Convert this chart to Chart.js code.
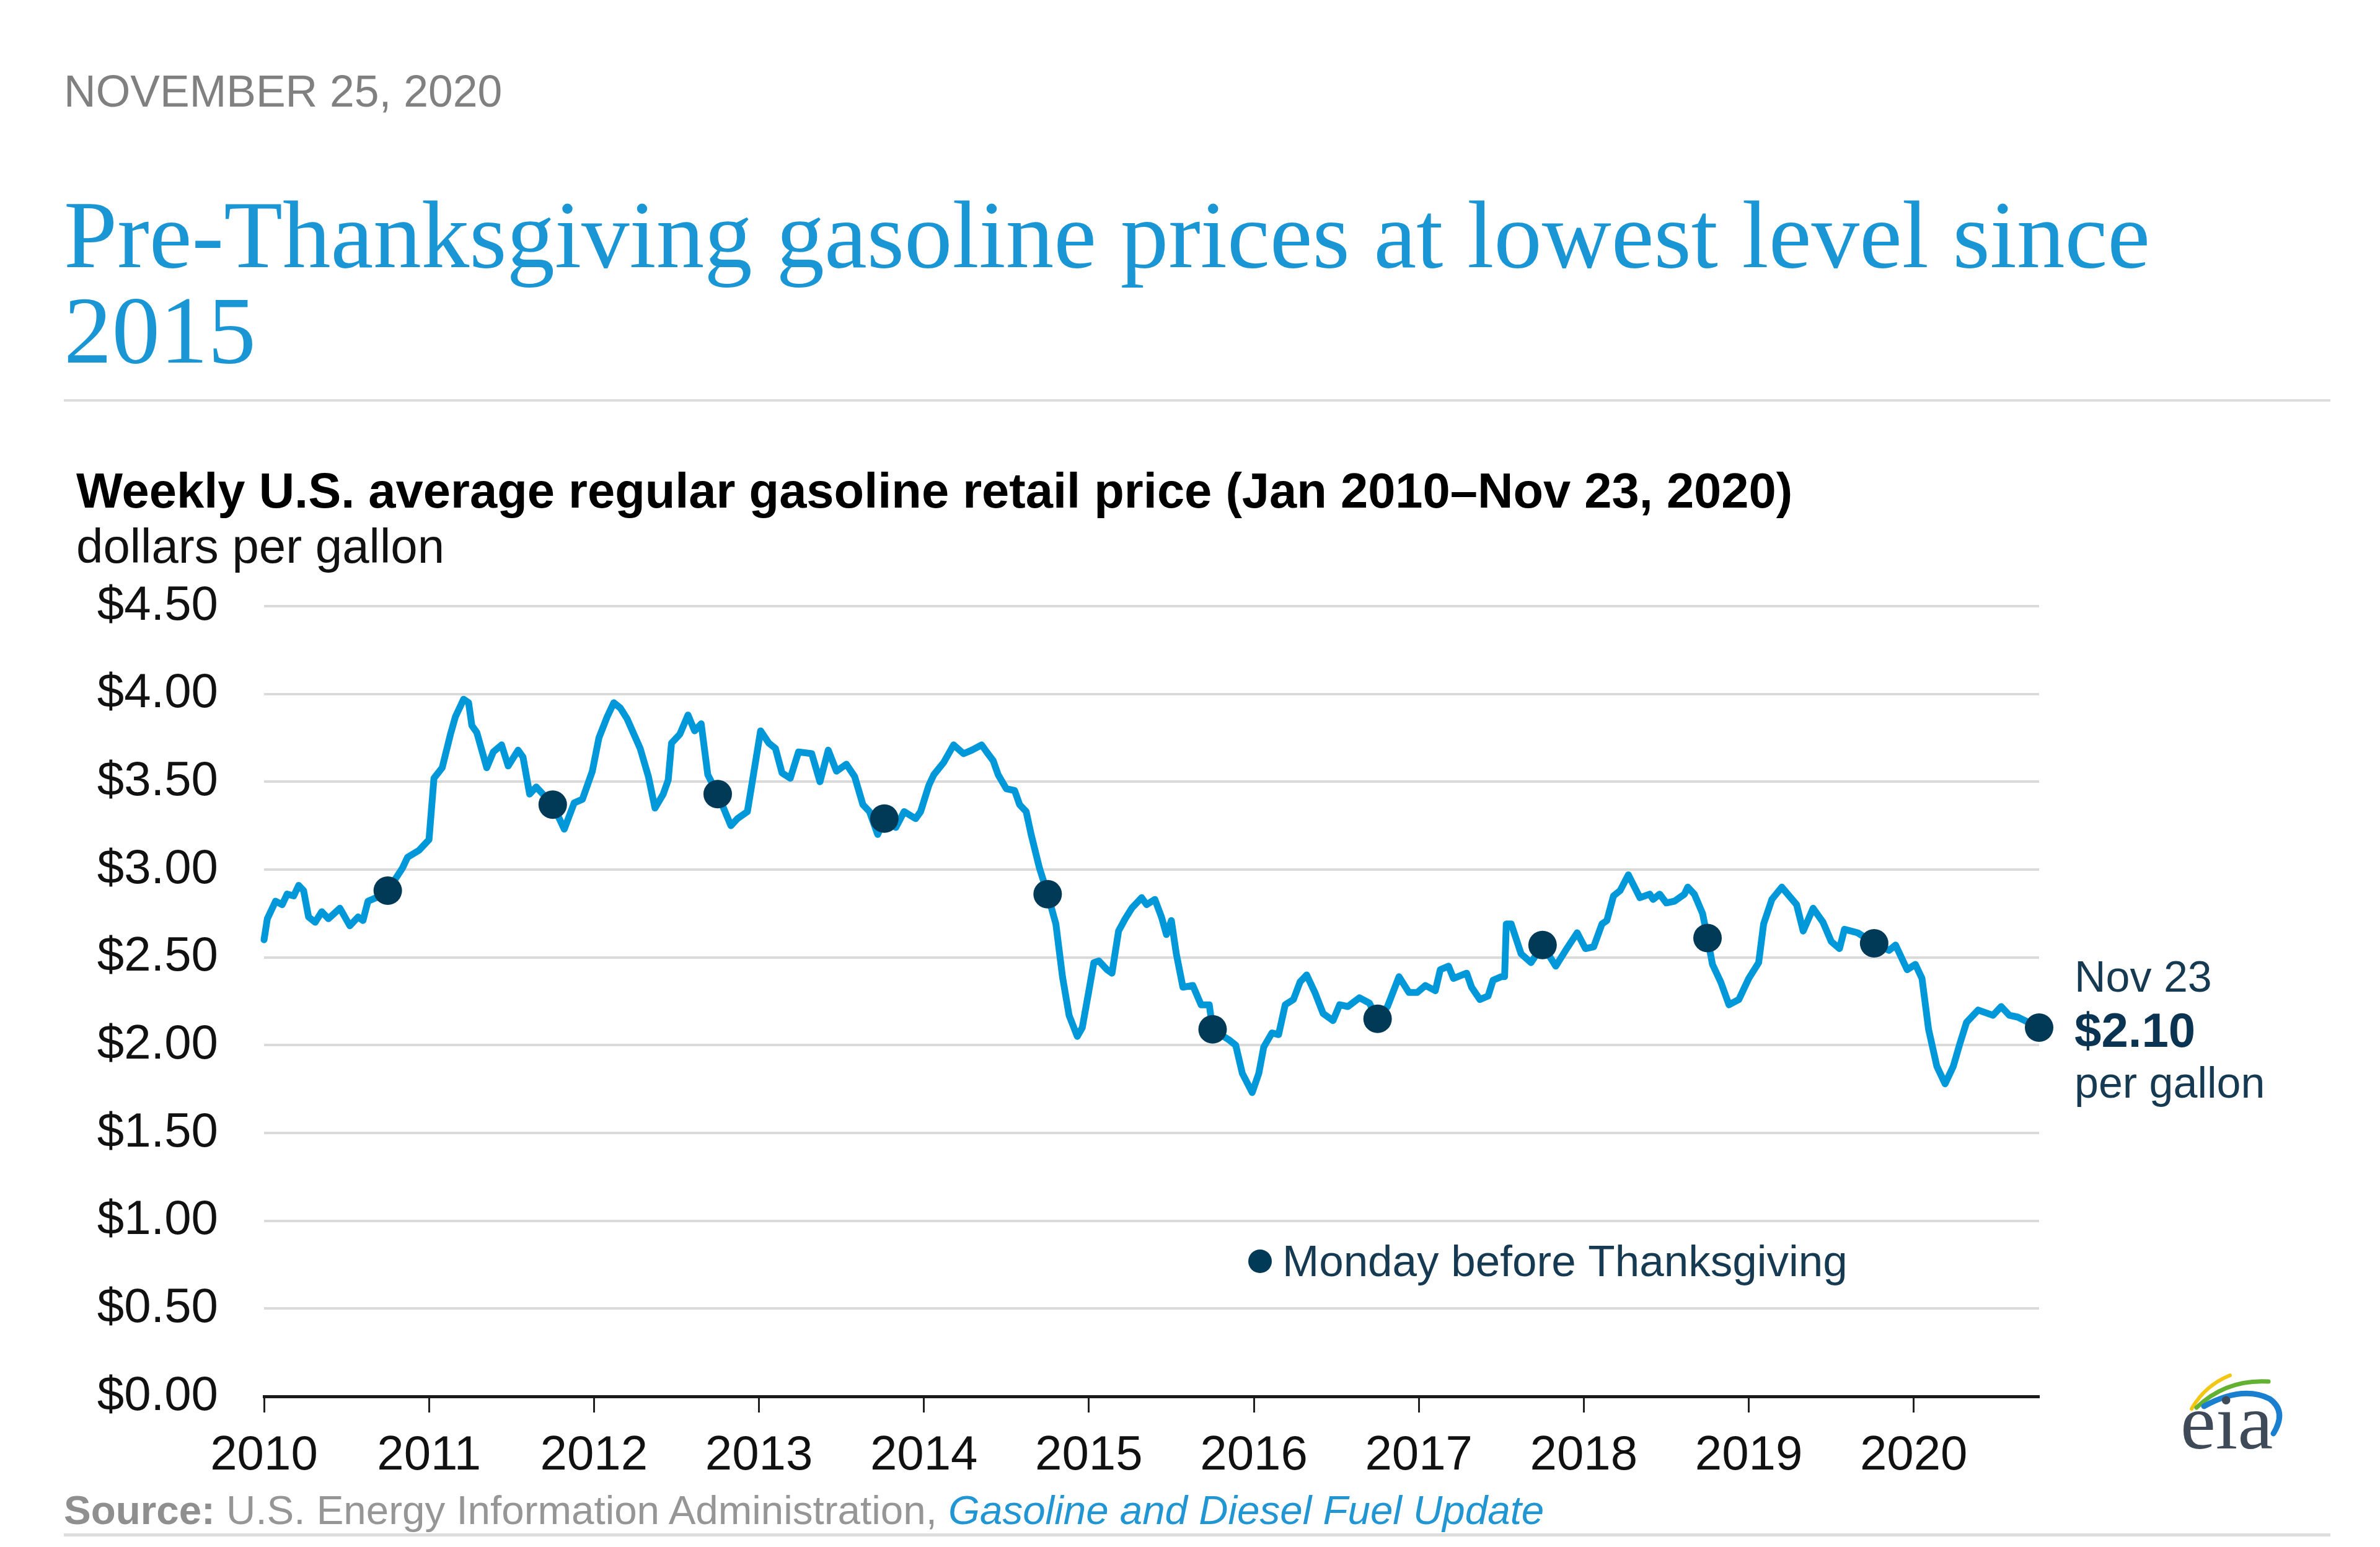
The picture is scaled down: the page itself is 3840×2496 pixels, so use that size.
<!DOCTYPE html>
<html>
<head>
<meta charset="utf-8">
<script src="https://cdn.jsdelivr.net/npm/chart.js@4.4.1/dist/chart.umd.min.js"></script>
<style>
  html, body { margin: 0; padding: 0; background: #ffffff; }
  #page { position: relative; width: 3840px; height: 2496px; overflow: hidden; background: #fff; }
  #c { position: absolute; left: 0; top: 0; }
  .abs { position: absolute; white-space: nowrap; margin: 0; }
  .sans { font-family: "Liberation Sans", Arial, sans-serif; }
  #date { left: 103px; top: 111px; font-size: 71.5px; line-height: 72px; color: #808080; }
  #title { left: 103px; top: 302px; font-family: "Liberation Serif", "Times New Roman", serif; font-size: 155px; line-height: 154px; color: #1a96d5; }
  .rule { position: absolute; left: 103px; width: 3657px; background: #dddddd; }
  #ctitle { left: 123px; top: 752px; font-size: 79.5px; line-height: 79.5px; font-weight: bold; color: #000; }
  #cunit { left: 123px; top: 842px; font-size: 78px; line-height: 78px; color: #111; }
  #source { left: 103px; top: 2404px; font-size: 65.5px; line-height: 65.5px; color: #969696; }
  #source b { color: #8f8f8f; }
  #source i { color: #2196d3; }
  #logo { position: absolute; left: 3500px; top: 2195px; }
</style>
</head>
<body>
<div id="page">
  <canvas id="c" width="3840" height="2496"></canvas>
  <div class="abs sans" id="date">NOVEMBER 25, 2020</div>
  <div class="abs" id="title">Pre-Thanksgiving gasoline prices at lowest level since<br>2015</div>
  <div class="rule" style="top:644px;height:4px;"></div>
  <div class="abs sans" id="ctitle">Weekly U.S. average regular gasoline retail price (Jan 2010–Nov 23, 2020)</div>
  <div class="abs sans" id="cunit">dollars per gallon</div>
  <div class="abs sans" id="source"><b>Source:</b> U.S. Energy Information Administration, <i>Gasoline and Diesel Fuel Update</i></div>
  <div class="rule" style="top:2474px;height:5px;"></div>
  <svg id="logo" width="210" height="170" viewBox="0 0 210 170">
    <path d="M36,78 Q58,40 98,24" fill="none" stroke="#f3c614" stroke-width="6" stroke-linecap="round"/>
    <path d="M44,76 Q92,30 160,34" fill="none" stroke="#62b133" stroke-width="7" stroke-linecap="round"/>
    <path d="M56,74 Q118,40 162,62 Q190,82 168,118" fill="none" stroke="#1a7fcf" stroke-width="9" stroke-linecap="round"/>
    <text x="18" y="142" font-family="Liberation Serif, Times New Roman, serif" font-size="128" fill="#3e4a57">eia</text>
  </svg>
</div>
<script>
// ---- data (x = years elapsed since Jan 2010 as drawn on the chart's axis) ----
const yearLabels = ['2010','2011','2012','2013','2014','2015','2016','2017','2018','2019','2020'];
const yTickValues = [0, 0.5, 1, 1.5, 2, 2.5, 3, 3.5, 4, 4.5];

const priceX = [
  0.00, 0.02, 0.07, 0.11, 0.14, 0.18, 0.21, 0.24, 0.27, 0.31,
  0.35, 0.39, 0.46, 0.52, 0.57, 0.60, 0.63, 0.68, 0.75, 0.84,
  0.87, 0.94, 1.00, 1.03, 1.08, 1.13, 1.16, 1.21, 1.24, 1.26,
  1.29, 1.35, 1.39, 1.44, 1.48, 1.54, 1.57, 1.61, 1.65, 1.75,
  1.82, 1.88, 1.93, 1.99, 2.03, 2.08, 2.12, 2.16, 2.20, 2.28,
  2.33, 2.37, 2.42, 2.45, 2.47, 2.52, 2.57, 2.61, 2.65, 2.69,
  2.75, 2.83, 2.87, 2.93, 2.97, 3.01, 3.06, 3.10, 3.14, 3.19,
  3.24, 3.32, 3.37, 3.42, 3.47, 3.53, 3.58, 3.63, 3.67, 3.72,
  3.76, 3.83, 3.88, 3.95, 3.98, 4.03, 4.06, 4.12, 4.18, 4.24,
  4.29, 4.35, 4.38, 4.42, 4.45, 4.50, 4.55, 4.58, 4.62, 4.65,
  4.70, 4.75, 4.80, 4.84, 4.88, 4.93, 4.96, 5.00, 5.03, 5.06,
  5.11, 5.14, 5.18, 5.22, 5.26, 5.32, 5.35, 5.40, 5.44, 5.47,
  5.50, 5.53, 5.57, 5.63, 5.68, 5.73, 5.75, 5.85, 5.89, 5.93,
  5.99, 6.03, 6.06, 6.11, 6.15, 6.19, 6.24, 6.28, 6.32, 6.37,
  6.42, 6.48, 6.52, 6.57, 6.64, 6.70, 6.75, 6.81, 6.88, 6.94,
  6.99, 7.04, 7.10, 7.13, 7.18, 7.21, 7.29, 7.32, 7.37, 7.42,
  7.45, 7.50, 7.52, 7.53, 7.56, 7.62, 7.68, 7.75, 7.83, 7.89,
  7.96, 8.01, 8.06, 8.11, 8.14, 8.18, 8.22, 8.27, 8.34, 8.40,
  8.42, 8.46, 8.50, 8.55, 8.61, 8.63, 8.67, 8.72, 8.75, 8.78,
  8.83, 8.88, 8.94, 9.00, 9.06, 9.09, 9.14, 9.20, 9.29, 9.33,
  9.39, 9.45, 9.50, 9.55, 9.58, 9.66, 9.76, 9.85, 9.89, 9.96,
  10.01, 10.05, 10.09, 10.14, 10.19, 10.24, 10.28, 10.32, 10.39, 10.48,
  10.53, 10.58, 10.63, 10.76
];
const priceY = [
  2.60, 2.72, 2.82, 2.80, 2.86, 2.85, 2.91, 2.88, 2.73, 2.70,
  2.76, 2.72, 2.78, 2.68, 2.73, 2.71, 2.82, 2.84, 2.88, 3.01,
  3.07, 3.11, 3.17, 3.52, 3.58, 3.77, 3.87, 3.97, 3.95, 3.82,
  3.78, 3.58, 3.67, 3.71, 3.59, 3.68, 3.64, 3.43, 3.47, 3.37,
  3.23, 3.38, 3.40, 3.56, 3.75, 3.87, 3.95, 3.92, 3.86, 3.69,
  3.53, 3.35, 3.43, 3.51, 3.72, 3.77, 3.88, 3.79, 3.83, 3.54,
  3.43, 3.25, 3.29, 3.33, 3.56, 3.79, 3.72, 3.69, 3.55, 3.52,
  3.67, 3.66, 3.50, 3.68, 3.56, 3.60, 3.53, 3.37, 3.33, 3.20,
  3.29, 3.24, 3.33, 3.29, 3.33, 3.48, 3.54, 3.61, 3.71, 3.66,
  3.68, 3.71, 3.67, 3.62, 3.54, 3.46, 3.45, 3.37, 3.33, 3.20,
  3.01, 2.86, 2.69, 2.39, 2.17, 2.05, 2.10, 2.31, 2.47, 2.48,
  2.43, 2.41, 2.65, 2.72, 2.78, 2.84, 2.80, 2.83, 2.73, 2.63,
  2.71, 2.52, 2.33, 2.34, 2.23, 2.23, 2.09, 2.03, 2.00, 1.84,
  1.73, 1.84, 1.99, 2.07, 2.06, 2.23, 2.26, 2.36, 2.40, 2.30,
  2.18, 2.14, 2.23, 2.22, 2.27, 2.24, 2.15, 2.22, 2.39, 2.30,
  2.30, 2.34, 2.31, 2.43, 2.45, 2.38, 2.41, 2.33, 2.26, 2.28,
  2.37, 2.39, 2.39, 2.69, 2.69, 2.52, 2.47, 2.57, 2.45, 2.54,
  2.64, 2.55, 2.56, 2.69, 2.71, 2.85, 2.88, 2.97, 2.84, 2.86,
  2.83, 2.86, 2.81, 2.82, 2.86, 2.90, 2.86, 2.75, 2.61, 2.46,
  2.36, 2.23, 2.26, 2.38, 2.47, 2.69, 2.83, 2.90, 2.80, 2.65,
  2.78, 2.70, 2.59, 2.55, 2.66, 2.64, 2.58, 2.54, 2.57, 2.43,
  2.46, 2.38, 2.09, 1.88, 1.78, 1.88, 2.01, 2.13, 2.20, 2.17,
  2.22, 2.17, 2.16, 2.10
];

const thanksgivingX = [0.75, 1.75, 2.75, 3.76, 4.75, 5.75, 6.75, 7.75, 8.75, 9.76, 10.76];
const thanksgivingY = [2.88, 3.37, 3.43, 3.29, 2.86, 2.09, 2.15, 2.57, 2.61, 2.58, 2.10];

const legendLabel = 'Monday before Thanksgiving';
const lastDateLabel = 'Nov 23';
const lastUnitLabel = 'per gallon';

// ---- build datasets ----
const pricePoints = priceX.map((x, i) => ({ x: x, y: priceY[i] }));
const thanksPoints = thanksgivingX.map((x, i) => ({ x: x, y: thanksgivingY[i] }));

const FONT = '"Liberation Sans", Arial, sans-serif';
const NAVY = '#003a57';
const TEXT_NAVY = '#163a52';

const notes = {
  id: 'notes',
  afterDatasetsDraw(chart) {
    const { ctx, chartArea, scales } = chart;
    const xs = scales.x, ys = scales.y;
    const lastX = thanksgivingX[thanksgivingX.length - 1];
    const lastY = thanksgivingY[thanksgivingY.length - 1];
    const px = xs.getPixelForValue(lastX);
    const py = ys.getPixelForValue(lastY);
    ctx.save();
    ctx.textAlign = 'left';
    ctx.textBaseline = 'alphabetic';
    ctx.fillStyle = TEXT_NAVY;
    ctx.font = '70px ' + FONT;
    ctx.fillText(lastDateLabel, px + 57, py - 58);
    ctx.fillStyle = '#0b3452';
    ctx.font = 'bold 78px ' + FONT;
    ctx.fillText('$' + lastY.toFixed(2), px + 57, py + 31);
    ctx.fillStyle = TEXT_NAVY;
    ctx.font = '70px ' + FONT;
    ctx.fillText(lastUnitLabel, px + 57, py + 113);

    // legend (inside plot area)
    const lx = chartArea.left + 1607;
    const ly = chartArea.bottom - 218;
    ctx.fillStyle = NAVY;
    ctx.beginPath();
    ctx.arc(lx, ly, 19, 0, Math.PI * 2);
    ctx.fill();
    ctx.fillStyle = TEXT_NAVY;
    ctx.font = '71px ' + FONT;
    ctx.fillText(legendLabel, lx + 36, ly + 24);
    ctx.restore();
  }
};

new Chart(document.getElementById('c'), {
  type: 'line',
  data: {
    datasets: [
      {
        label: legendLabel,
        data: thanksPoints,
        showLine: false,
        pointRadius: 23,
        pointHoverRadius: 23,
        pointBackgroundColor: NAVY,
        pointBorderWidth: 0,
        order: 0,
        clip: false
      },
      {
        label: 'Weekly U.S. average regular gasoline retail price',
        data: pricePoints,
        borderColor: '#0098d8',
        borderWidth: 11,
        pointRadius: 0,
        tension: 0,
        borderJoinStyle: 'round',
        borderCapStyle: 'round',
        fill: false,
        order: 1,
        clip: false
      }
    ]
  },
  options: {
    responsive: false,
    animation: false,
    devicePixelRatio: 1,
    events: [],
    layout: { padding: { left: 0, right: 550, top: 978, bottom: 0 } },
    plugins: { legend: { display: false }, tooltip: { enabled: false }, title: { display: false } },
    scales: {
      x: {
        type: 'linear',
        min: 0,
        max: thanksgivingX[thanksgivingX.length - 1],
        afterBuildTicks: (s) => { s.ticks = yearLabels.map((_, i) => ({ value: i })); },
        afterFit: (s) => { s.height = 243; },
        grid: { drawOnChartArea: false, drawTicks: true, tickLength: 26, tickWidth: 3, tickColor: '#222222' },
        border: { display: true, color: '#1a1a1a', width: 5 },
        ticks: {
          callback: (v) => yearLabels[Math.round(v)],
          autoSkip: false, maxRotation: 0, minRotation: 0,
          padding: 24,
          color: '#111111',
          font: { family: FONT, size: 78 }
        }
      },
      y: {
        type: 'linear',
        min: 0,
        max: 4.5,
        afterBuildTicks: (s) => { s.ticks = yTickValues.map((v) => ({ value: v })); },
        afterFit: (s) => { s.width = 426; },
        grid: {
          color: (c) => (c.tick && c.tick.value === 0 ? 'rgba(0,0,0,0)' : '#dadada'),
          lineWidth: 4,
          drawTicks: false
        },
        border: { display: false },
        ticks: {
          callback: (v) => '$' + Number(v).toFixed(2),
          padding: 74,
          color: '#111111',
          font: { family: FONT, size: 78 }
        }
      }
    }
  },
  plugins: [notes]
});
</script>
</body>
</html>
